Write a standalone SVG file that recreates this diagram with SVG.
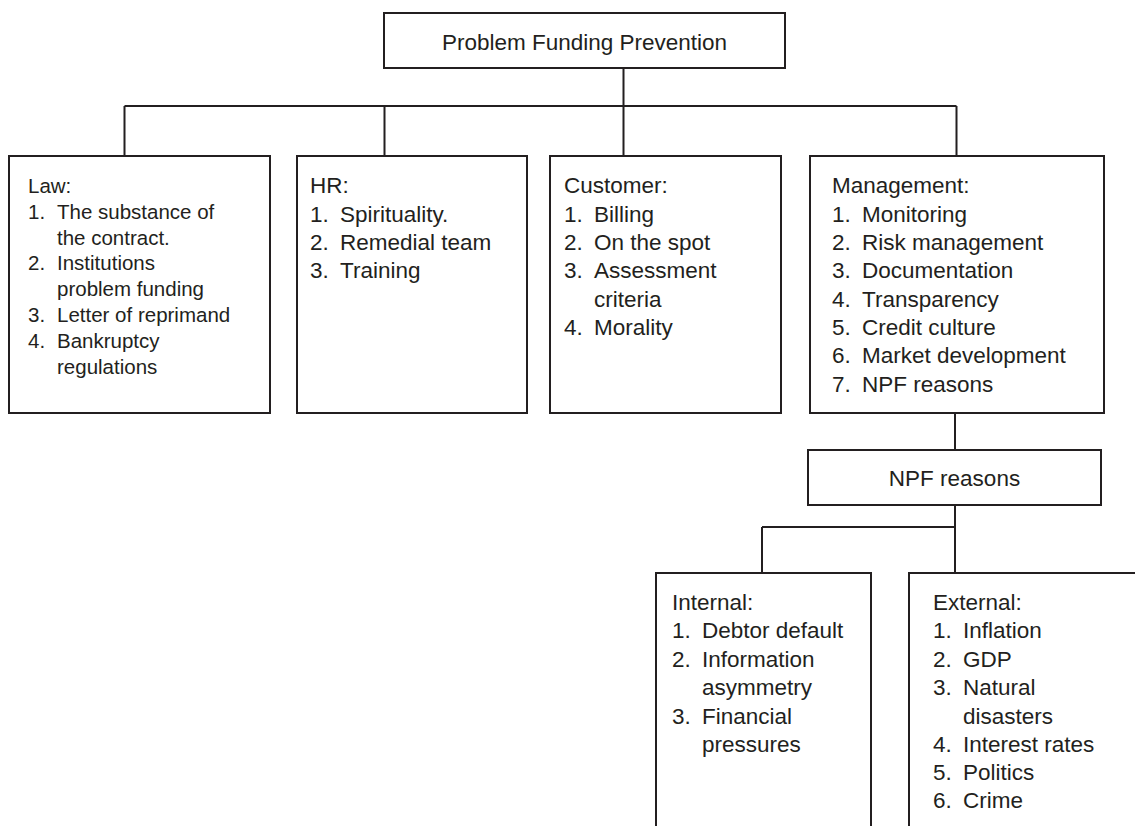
<svg xmlns="http://www.w3.org/2000/svg" width="1135" height="826" viewBox="0 0 1135 826">
<style>
.box{fill:#fff;stroke:#231f20;stroke-width:2}
.con{fill:none;stroke:#231f20;stroke-width:2}
text{font-family:"Liberation Sans",Arial,sans-serif;fill:#231f20;font-size:22.5px}
.law text{font-size:20.5px}
.c{text-anchor:middle}
</style>
<rect width="1135" height="826" fill="#fff"/>
<g id="connectors">
<path class="con" d="M623.5,68V106M124.5,106H956.5M124.5,106V156M384.5,106V156M623.5,106V156M956.5,106V156"/>
<path class="con" d="M955,413V450M955,505V573M762,527H955M762,527V573"/>
</g>
<g id="root">
<rect class="box" x="384" y="13" width="401" height="55"/>
<text class="c" x="584.5" y="50">Problem Funding Prevention</text>
</g>
<g id="law" class="law">
<rect class="box" x="9" y="156" width="261" height="257"/>
<text x="28" y="193">Law:</text>
<text y="219"><tspan x="28">1.</tspan><tspan x="57">The substance of</tspan></text>
<text x="57" y="244.5">the contract.</text>
<text y="270"><tspan x="28">2.</tspan><tspan x="57">Institutions</tspan></text>
<text x="57" y="296">problem funding</text>
<text y="322"><tspan x="28">3.</tspan><tspan x="57">Letter of reprimand</tspan></text>
<text y="347.5"><tspan x="28">4.</tspan><tspan x="57">Bankruptcy</tspan></text>
<text x="57" y="373.5">regulations</text>
</g>
<g id="hr">
<rect class="box" x="297" y="156" width="230" height="257"/>
<text x="310" y="193">HR:</text>
<text y="222"><tspan x="310">1.</tspan><tspan x="340">Spirituality.</tspan></text>
<text y="250"><tspan x="310">2.</tspan><tspan x="340">Remedial team</tspan></text>
<text y="278"><tspan x="310">3.</tspan><tspan x="340">Training</tspan></text>
</g>
<g id="customer">
<rect class="box" x="550" y="156" width="231" height="257"/>
<text x="564" y="193">Customer:</text>
<text y="222"><tspan x="564">1.</tspan><tspan x="594">Billing</tspan></text>
<text y="250"><tspan x="564">2.</tspan><tspan x="594">On the spot</tspan></text>
<text y="278"><tspan x="564">3.</tspan><tspan x="594">Assessment</tspan></text>
<text x="594" y="307">criteria</text>
<text y="335"><tspan x="564">4.</tspan><tspan x="594">Morality</tspan></text>
</g>
<g id="management">
<rect class="box" x="810" y="156" width="294" height="257"/>
<text x="832" y="193">Management:</text>
<text y="222"><tspan x="832">1.</tspan><tspan x="862">Monitoring</tspan></text>
<text y="250"><tspan x="832">2.</tspan><tspan x="862">Risk management</tspan></text>
<text y="278"><tspan x="832">3.</tspan><tspan x="862">Documentation</tspan></text>
<text y="307"><tspan x="832">4.</tspan><tspan x="862">Transparency</tspan></text>
<text y="335"><tspan x="832">5.</tspan><tspan x="862">Credit culture</tspan></text>
<text y="363"><tspan x="832">6.</tspan><tspan x="862">Market development</tspan></text>
<text y="392"><tspan x="832">7.</tspan><tspan x="862">NPF reasons</tspan></text>
</g>
<g id="npf">
<rect class="box" x="808" y="450" width="293" height="55"/>
<text class="c" x="954.5" y="486">NPF reasons</text>
</g>
<g id="internal">
<rect class="box" x="656" y="573" width="215" height="280"/>
<text x="672" y="610">Internal:</text>
<text y="638"><tspan x="672">1.</tspan><tspan x="702">Debtor default</tspan></text>
<text y="667"><tspan x="672">2.</tspan><tspan x="702">Information</tspan></text>
<text x="702" y="695">asymmetry</text>
<text y="724"><tspan x="672">3.</tspan><tspan x="702">Financial</tspan></text>
<text x="702" y="752">pressures</text>
</g>
<g id="external">
<rect class="box" x="909" y="573" width="260" height="280"/>
<text x="933" y="610">External:</text>
<text y="638"><tspan x="933">1.</tspan><tspan x="963">Inflation</tspan></text>
<text y="667"><tspan x="933">2.</tspan><tspan x="963">GDP</tspan></text>
<text y="695"><tspan x="933">3.</tspan><tspan x="963">Natural</tspan></text>
<text x="963" y="724">disasters</text>
<text y="752"><tspan x="933">4.</tspan><tspan x="963">Interest rates</tspan></text>
<text y="780"><tspan x="933">5.</tspan><tspan x="963">Politics</tspan></text>
<text y="808"><tspan x="933">6.</tspan><tspan x="963">Crime</tspan></text>
</g>
</svg>
